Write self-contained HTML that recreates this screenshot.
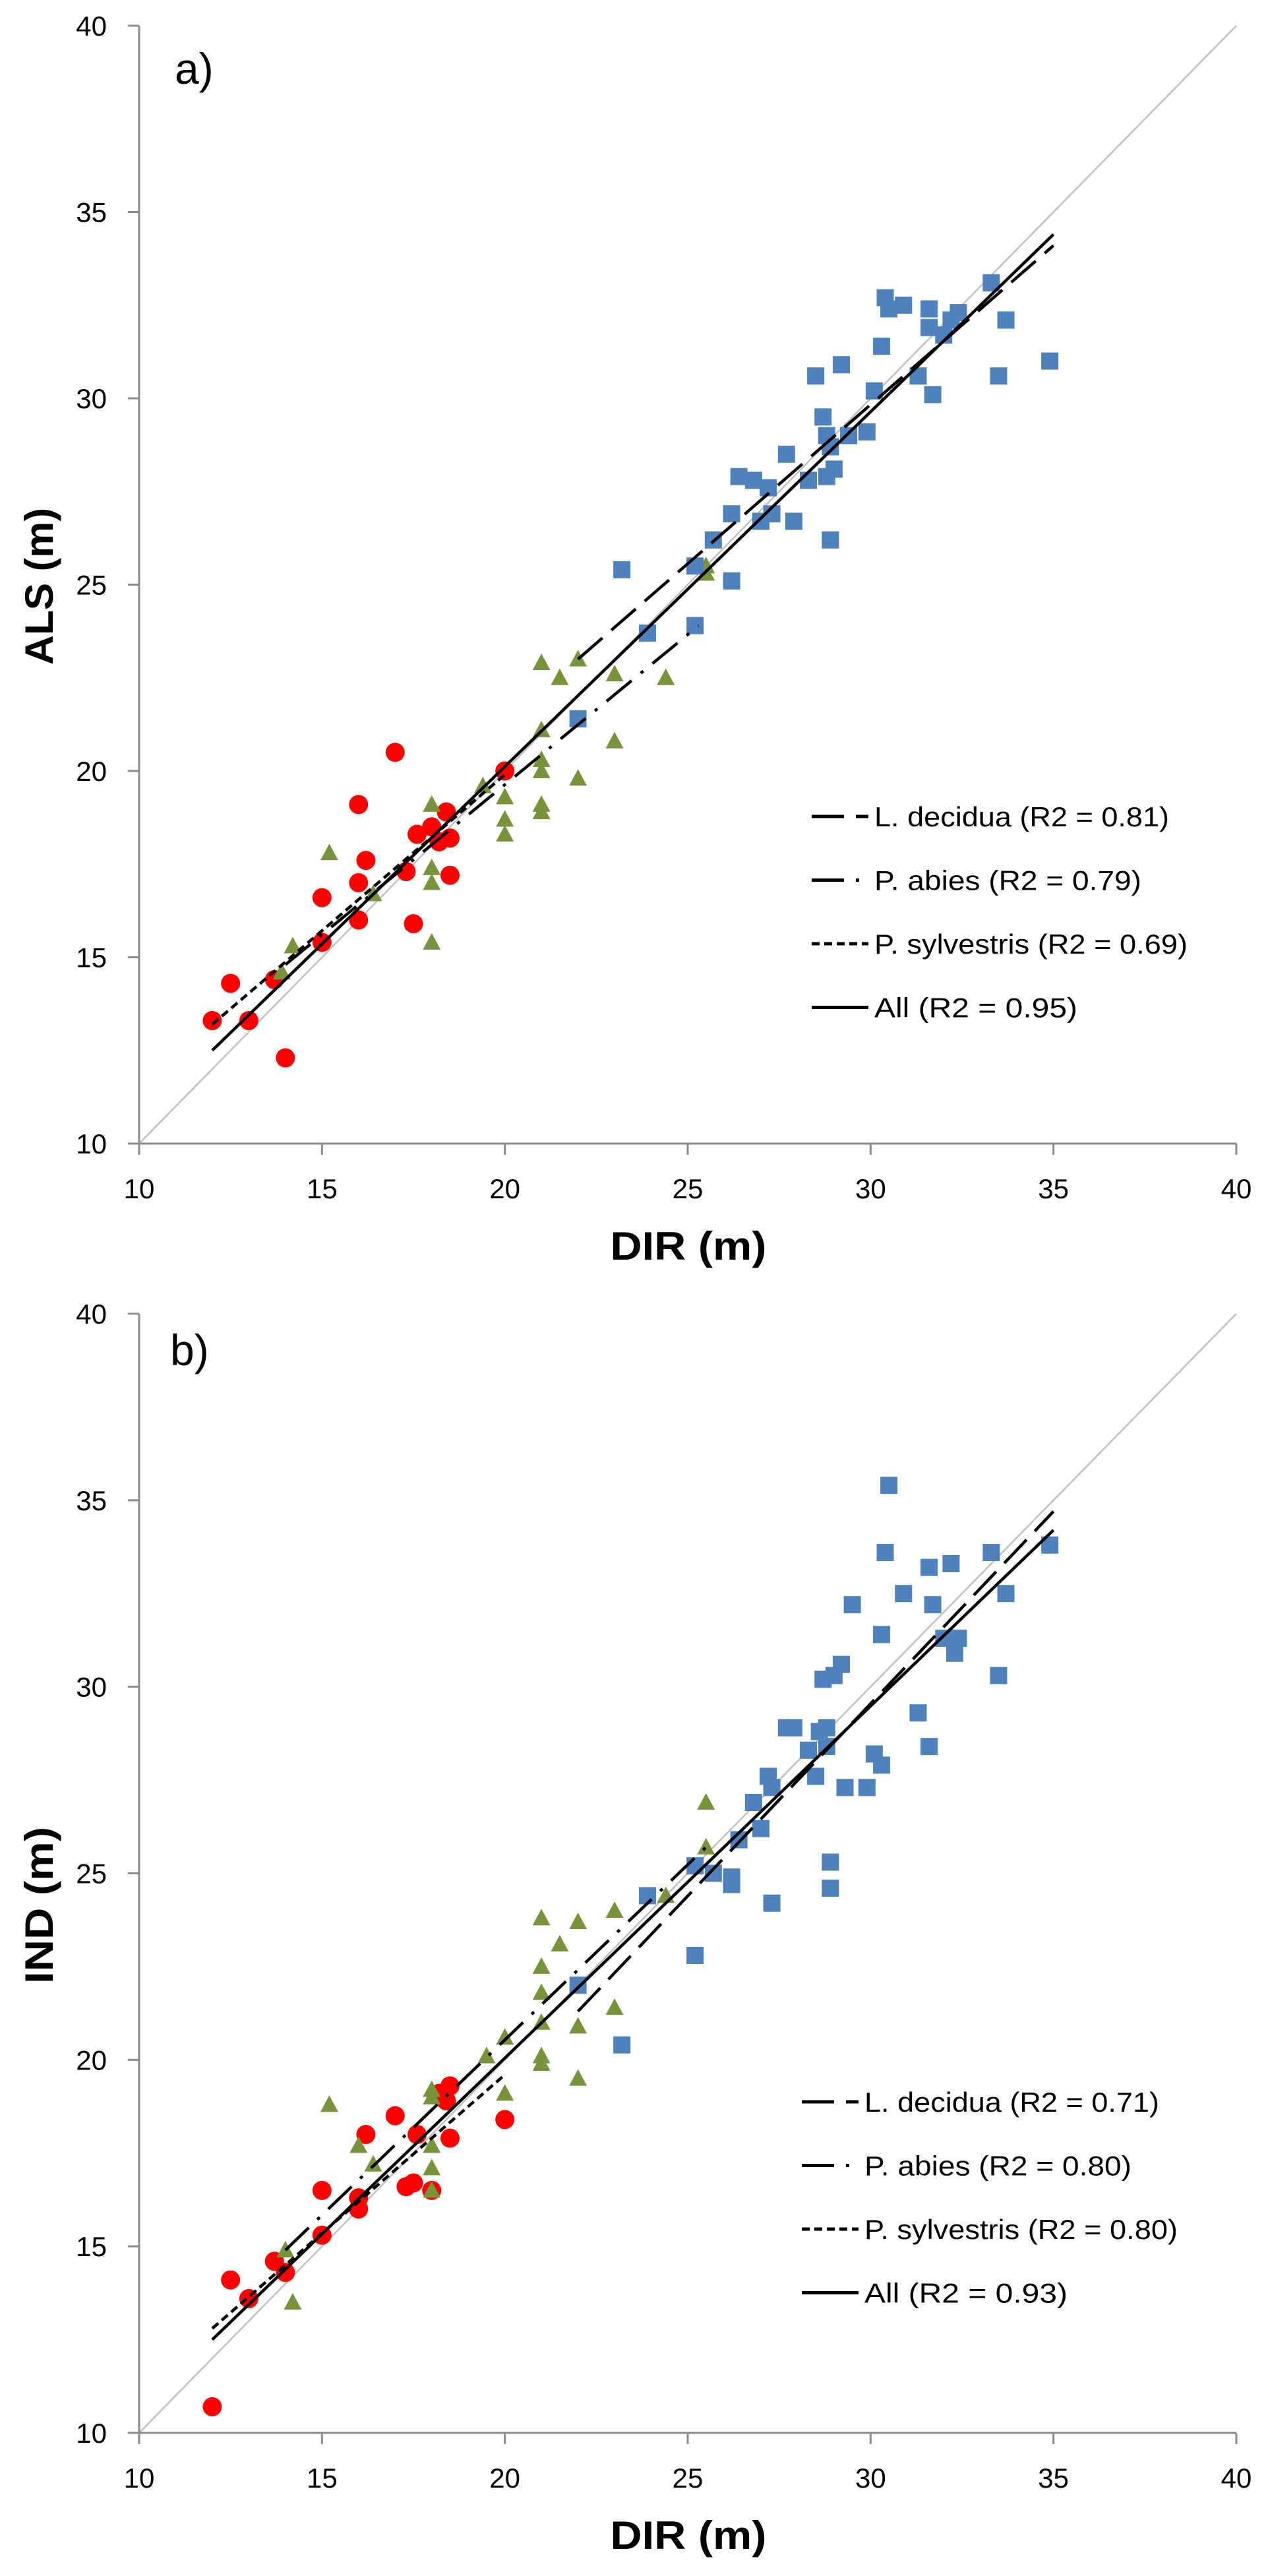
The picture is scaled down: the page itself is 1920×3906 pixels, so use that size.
<!DOCTYPE html>
<html><head><meta charset="utf-8">
<style>
html,body{margin:0;padding:0;background:#fff;}
svg{display:block;}
text{font-family:"Liberation Sans",sans-serif;fill:#000;}
</style></head>
<body>
<svg id="fig" width="1920" height="3906" viewBox="0 0 1920 3906" xmlns="http://www.w3.org/2000/svg"></svg>
<script>
// ---- Panel a data (DIR vs ALS) ----
const aRedX=[12.0,12.5,13.0,13.7,14.0,15.0,15.0,16.0,16.0,16.0,16.2,17.0,17.3,17.5,17.6,18.0,18.2,18.4,18.5,18.5,20.0];
const aRedY=[13.3,14.3,13.3,14.4,12.3,15.4,16.6,19.1,17.0,16.0,17.6,20.5,17.3,15.9,18.3,18.5,18.1,18.9,18.2,17.2,20.0];
const aGreenX=[14.2,13.9,15.2,16.4,18.0,18.0,18.0,18.0,19.4,20.0,20.0,20.0,21.0,21.0,21.0,21.0,21.0,21.0,21.5,22.0,22.0,23.0,23.0,24.4,25.5,25.5];
const aGreenY=[15.3,14.6,17.8,16.7,19.1,17.4,17.0,15.4,19.6,19.3,18.7,18.3,22.9,21.1,20.3,20.0,19.1,18.9,22.5,23.0,19.8,22.6,20.8,22.5,25.3,25.5];
const aBlueX=[22.0,23.2,23.9,25.2,25.2,25.7,26.2,26.2,26.4,26.8,27.2,27.0,27.3,27.7,27.9,28.3,28.5,28.7,28.8,28.8,28.9,29.0,28.9,29.2,29.4,29.9,30.1,30.3,30.4,30.5,30.9,31.3,31.6,31.6,31.7,32.0,32.2,32.4,33.3,33.5,33.7,34.9];
const aBlueY=[21.4,25.4,23.7,23.9,25.5,26.2,26.9,25.1,27.9,27.8,27.6,26.7,26.9,28.5,26.7,27.8,30.6,29.5,29.0,27.9,26.2,28.1,28.7,30.9,29.0,29.1,30.2,31.4,32.7,32.4,32.5,30.6,32.4,31.9,30.1,31.7,32.1,32.3,33.1,30.6,32.1,31.0];
// trend lines: [x start, x end], [y start, y end]
const aDecX=[22,35], aDecY=[23.0,34.1];
const aAbiX=[14,25.3], aAbiY=[14.8,23.9];
const aSylX=[12,20], aSylY=[13.2,19.9];
const aAllX=[12,35], aAllY=[12.5,34.4];
const aLegend=["L. decidua (R2 = 0.81)","P. abies (R2 = 0.79)","P. sylvestris (R2 = 0.69)","All (R2 = 0.95)"];

// ---- Panel b data (DIR vs IND) ----
const bRedX=[12.0,12.5,13.0,13.7,14.0,15.0,15.0,16.0,16.0,16.2,17.0,17.3,17.5,17.6,18.0,18.2,18.4,18.5,18.5,20.0];
const bRedY=[10.7,14.1,13.6,14.6,14.3,15.3,16.5,16.3,16.0,18.0,18.5,16.6,16.7,18.0,16.5,19.1,18.9,19.3,17.9,18.4];
const bGreenX=[14.0,14.2,15.2,16.0,16.4,18.0,18.0,18.0,18.0,18.0,19.5,20.0,20.0,21.0,21.0,21.0,21.0,21.0,21.0,21.5,22.0,22.0,22.0,23.0,23.0,24.4,25.5,25.5];
const bGreenY=[14.9,13.5,18.8,17.7,17.2,19.2,19.0,17.7,17.1,16.5,20.1,20.6,19.1,23.8,22.5,21.8,21.0,20.1,19.9,23.1,23.7,20.9,19.5,24.0,21.4,24.4,26.9,25.7];
const bBlueX=[22.0,23.2,23.9,25.2,25.2,25.7,26.2,26.2,26.4,26.8,27.0,27.2,27.3,27.3,27.7,27.9,28.3,28.5,28.6,28.7,28.8,28.8,28.9,28.9,29.0,29.2,29.3,29.5,29.9,30.1,30.3,30.3,30.4,30.5,30.9,31.3,31.6,31.6,31.7,32.0,32.2,32.3,32.4,33.3,33.5,33.7,34.9];
const bBlueY=[22.0,20.4,24.4,22.8,25.2,25.0,24.9,24.7,25.9,26.9,26.2,27.6,27.3,24.2,28.9,28.9,28.3,27.6,28.8,30.2,28.9,28.4,25.3,24.6,30.3,30.6,27.3,32.2,27.3,28.2,31.4,27.9,33.6,35.4,32.5,29.3,33.2,28.4,32.2,31.3,33.3,30.9,31.3,33.6,30.3,32.5,33.8];
const bDecX=[22,35], bDecY=[21.3,34.7];
const bAbiX=[14,25.5], bAbiY=[14.9,25.7];
const bSylX=[12,20], bSylY=[12.8,19.6];
const bAllX=[12,35], bAllY=[12.5,34.2];
const bLegend=["L. decidua (R2 = 0.71)","P. abies (R2 = 0.80)","P. sylvestris (R2 = 0.80)","All (R2 = 0.93)"];

const ticks=[10,15,20,25,30,35,40];
const tickLabels=["10","15","20","25","30","35","40"];

const NS="http://www.w3.org/2000/svg";
const svg=document.getElementById('fig');
function mk(tag,attrs,parent){const e=document.createElementNS(NS,tag);for(const k in attrs)e.setAttribute(k,attrs[k]);(parent||svg).appendChild(e);return e;}

const DASH={dec:"49 18",abi:"49 18 5 18",syl:"12 7",all:""};

function panel(cfg){
  const g=mk('g',{});
  
  
  const X=v=>cfg.x0+(v-10)/30*(cfg.x1-cfg.x0);
  const Y=v=>cfg.yb+(v-10)/30*(cfg.yt-cfg.yb);
  // 1:1 line
  const d=mk('line',{x1:X(10),y1:Y(10),x2:X(40),y2:Y(40),stroke:'#c0c0c0','stroke-width':2.5},g);
  
  
  // axes
  const ax=mk('line',{x1:cfg.x0,y1:cfg.yb,x2:cfg.x1,y2:cfg.yb,stroke:'#8c8c8c','stroke-width':3},g);
  
  
  const ay=mk('line',{x1:cfg.x0,y1:cfg.yb,x2:cfg.x0,y2:cfg.yt,stroke:'#8c8c8c','stroke-width':3},g);
  
  
  ticks.forEach((t,i)=>{
    const tx=mk('line',{x1:X(t),y1:cfg.yb,x2:X(t),y2:cfg.yb+17,stroke:'#8c8c8c','stroke-width':3},g);
    
    
    const ty=mk('line',{x1:cfg.x0-17,y1:Y(t),x2:cfg.x0,y2:Y(t),stroke:'#8c8c8c','stroke-width':3},g);
    
    
    const lx=mk('text',{x:X(t),y:cfg.yb+83,'font-size':42,'text-anchor':'middle'},g);
    lx.textContent=tickLabels[i];
    
    
    const ly=mk('text',{x:162,y:Y(t)+15,'font-size':42,'text-anchor':'end'},g);
    ly.textContent=tickLabels[i];
    
    
  });
  // markers
  cfg.redX.forEach((v,i)=>{
    const c=mk('circle',{cx:X(v),cy:Y(cfg.redY[i]),r:14.5,fill:'#ff0000'},g);
    
    
  });
  cfg.greenX.forEach((v,i)=>{
    const cx=X(v),cy=Y(cfg.greenY[i]);
    const p=mk('polygon',{points:`${cx-13.5},${cy+11} ${cx+13.5},${cy+11} ${cx},${cy-14}`,fill:'#77933c'},g);
    
    
  });
  cfg.blueX.forEach((v,i)=>{
    const r=mk('rect',{x:X(v)-13,y:Y(cfg.blueY[i])-13,width:26,height:26,fill:'#4f81bd'},g);
    
    
  });
  // trend lines
  const tl=[[cfg.decX,cfg.decY,DASH.dec,'l-decidua-trend'],[cfg.abiX,cfg.abiY,DASH.abi,'p-abies-trend'],[cfg.sylX,cfg.sylY,DASH.syl,'p-sylvestris-trend'],[cfg.allX,cfg.allY,DASH.all,'all-trend']];
  tl.forEach(l=>{
    const e=mk('line',{x1:X(l[0][0]),y1:Y(l[1][0]),x2:X(l[0][1]),y2:Y(l[1][1]),stroke:'#000','stroke-width':4.5,'stroke-dasharray':l[2]},g);
    
    
  });
  // legend
  const dashes=[DASH.dec,DASH.abi,DASH.syl,DASH.all];
  const widths=[447,405,475,308];
  cfg.legend.forEach((txt,i)=>{
    const ly=cfg.legY+i*96.5;
    const ll=mk('line',{x1:cfg.legX,y1:ly,x2:cfg.legX+86,y2:ly,stroke:'#000','stroke-width':5,'stroke-dasharray':dashes[i]},g);
    
    
    const t=mk('text',{x:cfg.legX+95,y:ly+15,'font-size':42,textLength:widths[i],lengthAdjust:'spacingAndGlyphs'},g);
    t.textContent=txt;
    
    
  });
  // titles
  const xt=mk('text',{x:1044,y:cfg.yb+176,'font-size':60,'font-weight':'bold','text-anchor':'middle',textLength:237,lengthAdjust:'spacingAndGlyphs'},g);
  xt.textContent='DIR (m)';
  
  
  const yt=mk('text',{x:0,y:0,'font-size':60,'font-weight':'bold','text-anchor':'middle',textLength:238,lengthAdjust:'spacingAndGlyphs',transform:`translate(80,${cfg.ytitleY}) rotate(-90)`},g);
  yt.textContent=cfg.ytitle;
  
  
  const pl=mk('text',{x:cfg.labX,y:cfg.labY,'font-size':66},g);
  pl.textContent=cfg.label;
  
  
}

panel({name:'panel-a',x0:211,x1:1875,yt:39,yb:1734,redX:aRedX,redY:aRedY,greenX:aGreenX,greenY:aGreenY,blueX:aBlueX,blueY:aBlueY,
  decX:aDecX,decY:aDecY,abiX:aAbiX,abiY:aAbiY,sylX:aSylX,sylY:aSylY,allX:aAllX,allY:aAllY,legend:aLegend,legX:1231,legY:1238,
  ytitle:'ALS (m)',ytitleY:889,label:'a)',labX:265,labY:127});
panel({name:'panel-b',x0:211,x1:1875,yt:1992,yb:3689,redX:bRedX,redY:bRedY,greenX:bGreenX,greenY:bGreenY,blueX:bBlueX,blueY:bBlueY,
  decX:bDecX,decY:bDecY,abiX:bAbiX,abiY:bAbiY,sylX:bSylX,sylY:bSylY,allX:bAllX,allY:bAllY,legend:bLegend,legX:1216,legY:3187,
  ytitle:'IND (m)',ytitleY:2889,label:'b)',labX:258,labY:2070});
</script>
</body></html>
